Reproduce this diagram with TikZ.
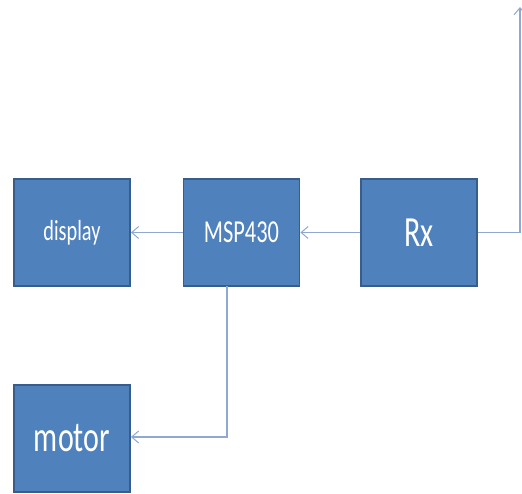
\documentclass[tikz,border=0pt]{standalone}
\usepackage{fontspec}
\newfontfamily\boxfont[FakeStretch=0.7]{Carlito}
\usetikzlibrary{arrows.meta}
\definecolor{boxfill}{HTML}{4F81BD}
\definecolor{boxline}{HTML}{385D8A}
\definecolor{wire}{HTML}{8FA8CF}
\tikzset{
  blk/.style={draw=boxline, line width=1.8pt, fill=boxfill, text=white, inner sep=0pt,
    minimum width=116pt, minimum height=107pt},
  wire/.style={draw=wire, line width=1.3pt, -{Straight Barb[length=7pt,width=12pt,line width=1pt]}},
}
\begin{document}
\begin{tikzpicture}[x=1pt,y=-1pt]
\useasboundingbox (0,0) rectangle (522,493);
\node[blk, font=\boxfont\fontsize{29}{30}\selectfont] (display) at (72,232.5) {display};
\node[blk, font=\boxfont\fontsize{32}{33}\selectfont] (msp) at (241.5,232.5) {MSP430};
\node[blk, font=\boxfont\fontsize{43}{44}\selectfont] (rx) at (419,232.5) {Rx};
\node[blk, font=\boxfont\fontsize{43}{44}\selectfont] (motor) at (72,438.5) {motor};
\coordinate (rxr) at (520,232.5);
\coordinate (top) at (520,7);
\coordinate (mspdown) at (227,286);
\coordinate (bend) at (227,437);
\draw[wire] (rx.west) -- (msp.east);
\draw[wire] (msp.west) -- (display.east);
\draw[wire] (rx.east) -- (rxr) -- (top);
\draw[wire] (mspdown) -- (bend) -- (motor.east |- bend);
\end{tikzpicture}
\end{document}
